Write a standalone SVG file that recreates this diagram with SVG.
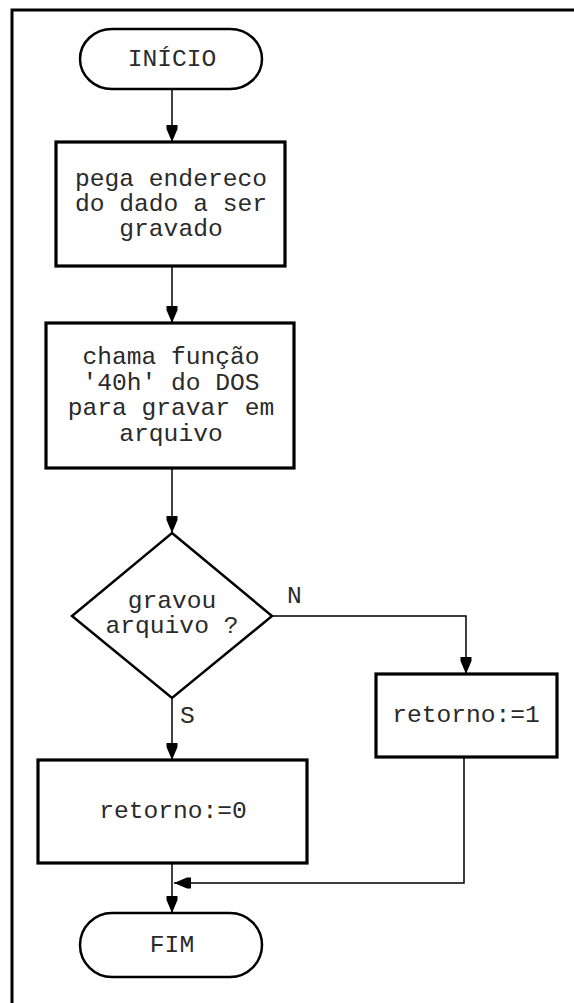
<svg xmlns="http://www.w3.org/2000/svg" width="574" height="1003" viewBox="0 0 574 1003">
  <style>
    .frame { fill: none; stroke: #000; stroke-width: 3; }
    .box { fill: #fff; stroke: #000; stroke-width: 3.2; }
    .term { fill: #fff; stroke: #000; stroke-width: 2.5; }
    .dec { fill: #fff; stroke: #000; stroke-width: 2.5; }
    .wire { fill: none; stroke: #000; stroke-width: 1.5; }
    text { font-family: "Courier New", "Liberation Mono", monospace; font-size: 24.6px; fill: #2a2a2a; text-anchor: middle; }
    .lbl { text-anchor: start; }
  </style>
  <defs>
    <marker id="arrow" markerUnits="userSpaceOnUse" viewBox="0 0 17 12" refX="17" refY="6" markerWidth="17" markerHeight="12" orient="auto">
      <path d="M0,0.5 L4,0.5 L17,6 L4,11.5 L0,11.5 Z" fill="#000"/>
    </marker>
  </defs>
  <rect width="574" height="1003" fill="#fff"/>

  <!-- page frame (top and left edges) -->
  <path class="frame" d="M12,1003 L12,10 L574,10"/>

  <!-- connectors -->
  <g id="connectors">
    <path class="wire" d="M172,89 L172,142" marker-end="url(#arrow)"/>
    <path class="wire" d="M172,266 L172,323" marker-end="url(#arrow)"/>
    <path class="wire" d="M172,468 L172,533" marker-end="url(#arrow)"/>
    <path class="wire" d="M172,698 L172,760" marker-end="url(#arrow)"/>
    <path class="wire" d="M272,616 L466,616 L466,674" marker-end="url(#arrow)"/>
    <path class="wire" d="M172,863 L172,913" marker-end="url(#arrow)"/>
    <path class="wire" d="M464,757 L464,883 L174,883" marker-end="url(#arrow)"/>
    <text class="lbl" x="287" y="603">N</text>
    <text class="lbl" x="180" y="723">S</text>
  </g>

  <g id="inicio">
    <rect class="term" x="80" y="29" width="182" height="60" rx="32" ry="30"/>
    <text x="172" y="66">INÍCIO</text>
  </g>

  <g id="pega-endereco">
    <rect class="box" x="56" y="142" width="229" height="124"/>
    <text x="171" y="186">pega endereco</text>
    <text x="171" y="211">do dado a ser</text>
    <text x="171" y="236">gravado</text>
  </g>

  <g id="chama-funcao">
    <rect class="box" x="46" y="323" width="248" height="145"/>
    <text x="171" y="364">chama função</text>
    <text x="171" y="390">'40h' do DOS</text>
    <text x="171" y="415">para gravar em</text>
    <text x="171" y="441">arquivo</text>
  </g>

  <g id="gravou">
    <polygon class="dec" points="172,533 272,616 172,698 72,616"/>
    <text x="172" y="608">gravou</text>
    <text x="172" y="633">arquivo ?</text>
  </g>

  <g id="retorno0">
    <rect class="box" x="38" y="760" width="269" height="103"/>
    <text x="173" y="818">retorno:=0</text>
  </g>

  <g id="retorno1">
    <rect class="box" x="376" y="674" width="181" height="83"/>
    <text x="466" y="722">retorno:=1</text>
  </g>

  <g id="fim">
    <rect class="term" x="80" y="913" width="182" height="64" rx="32" ry="32"/>
    <text x="172" y="952">FIM</text>
  </g>
</svg>
